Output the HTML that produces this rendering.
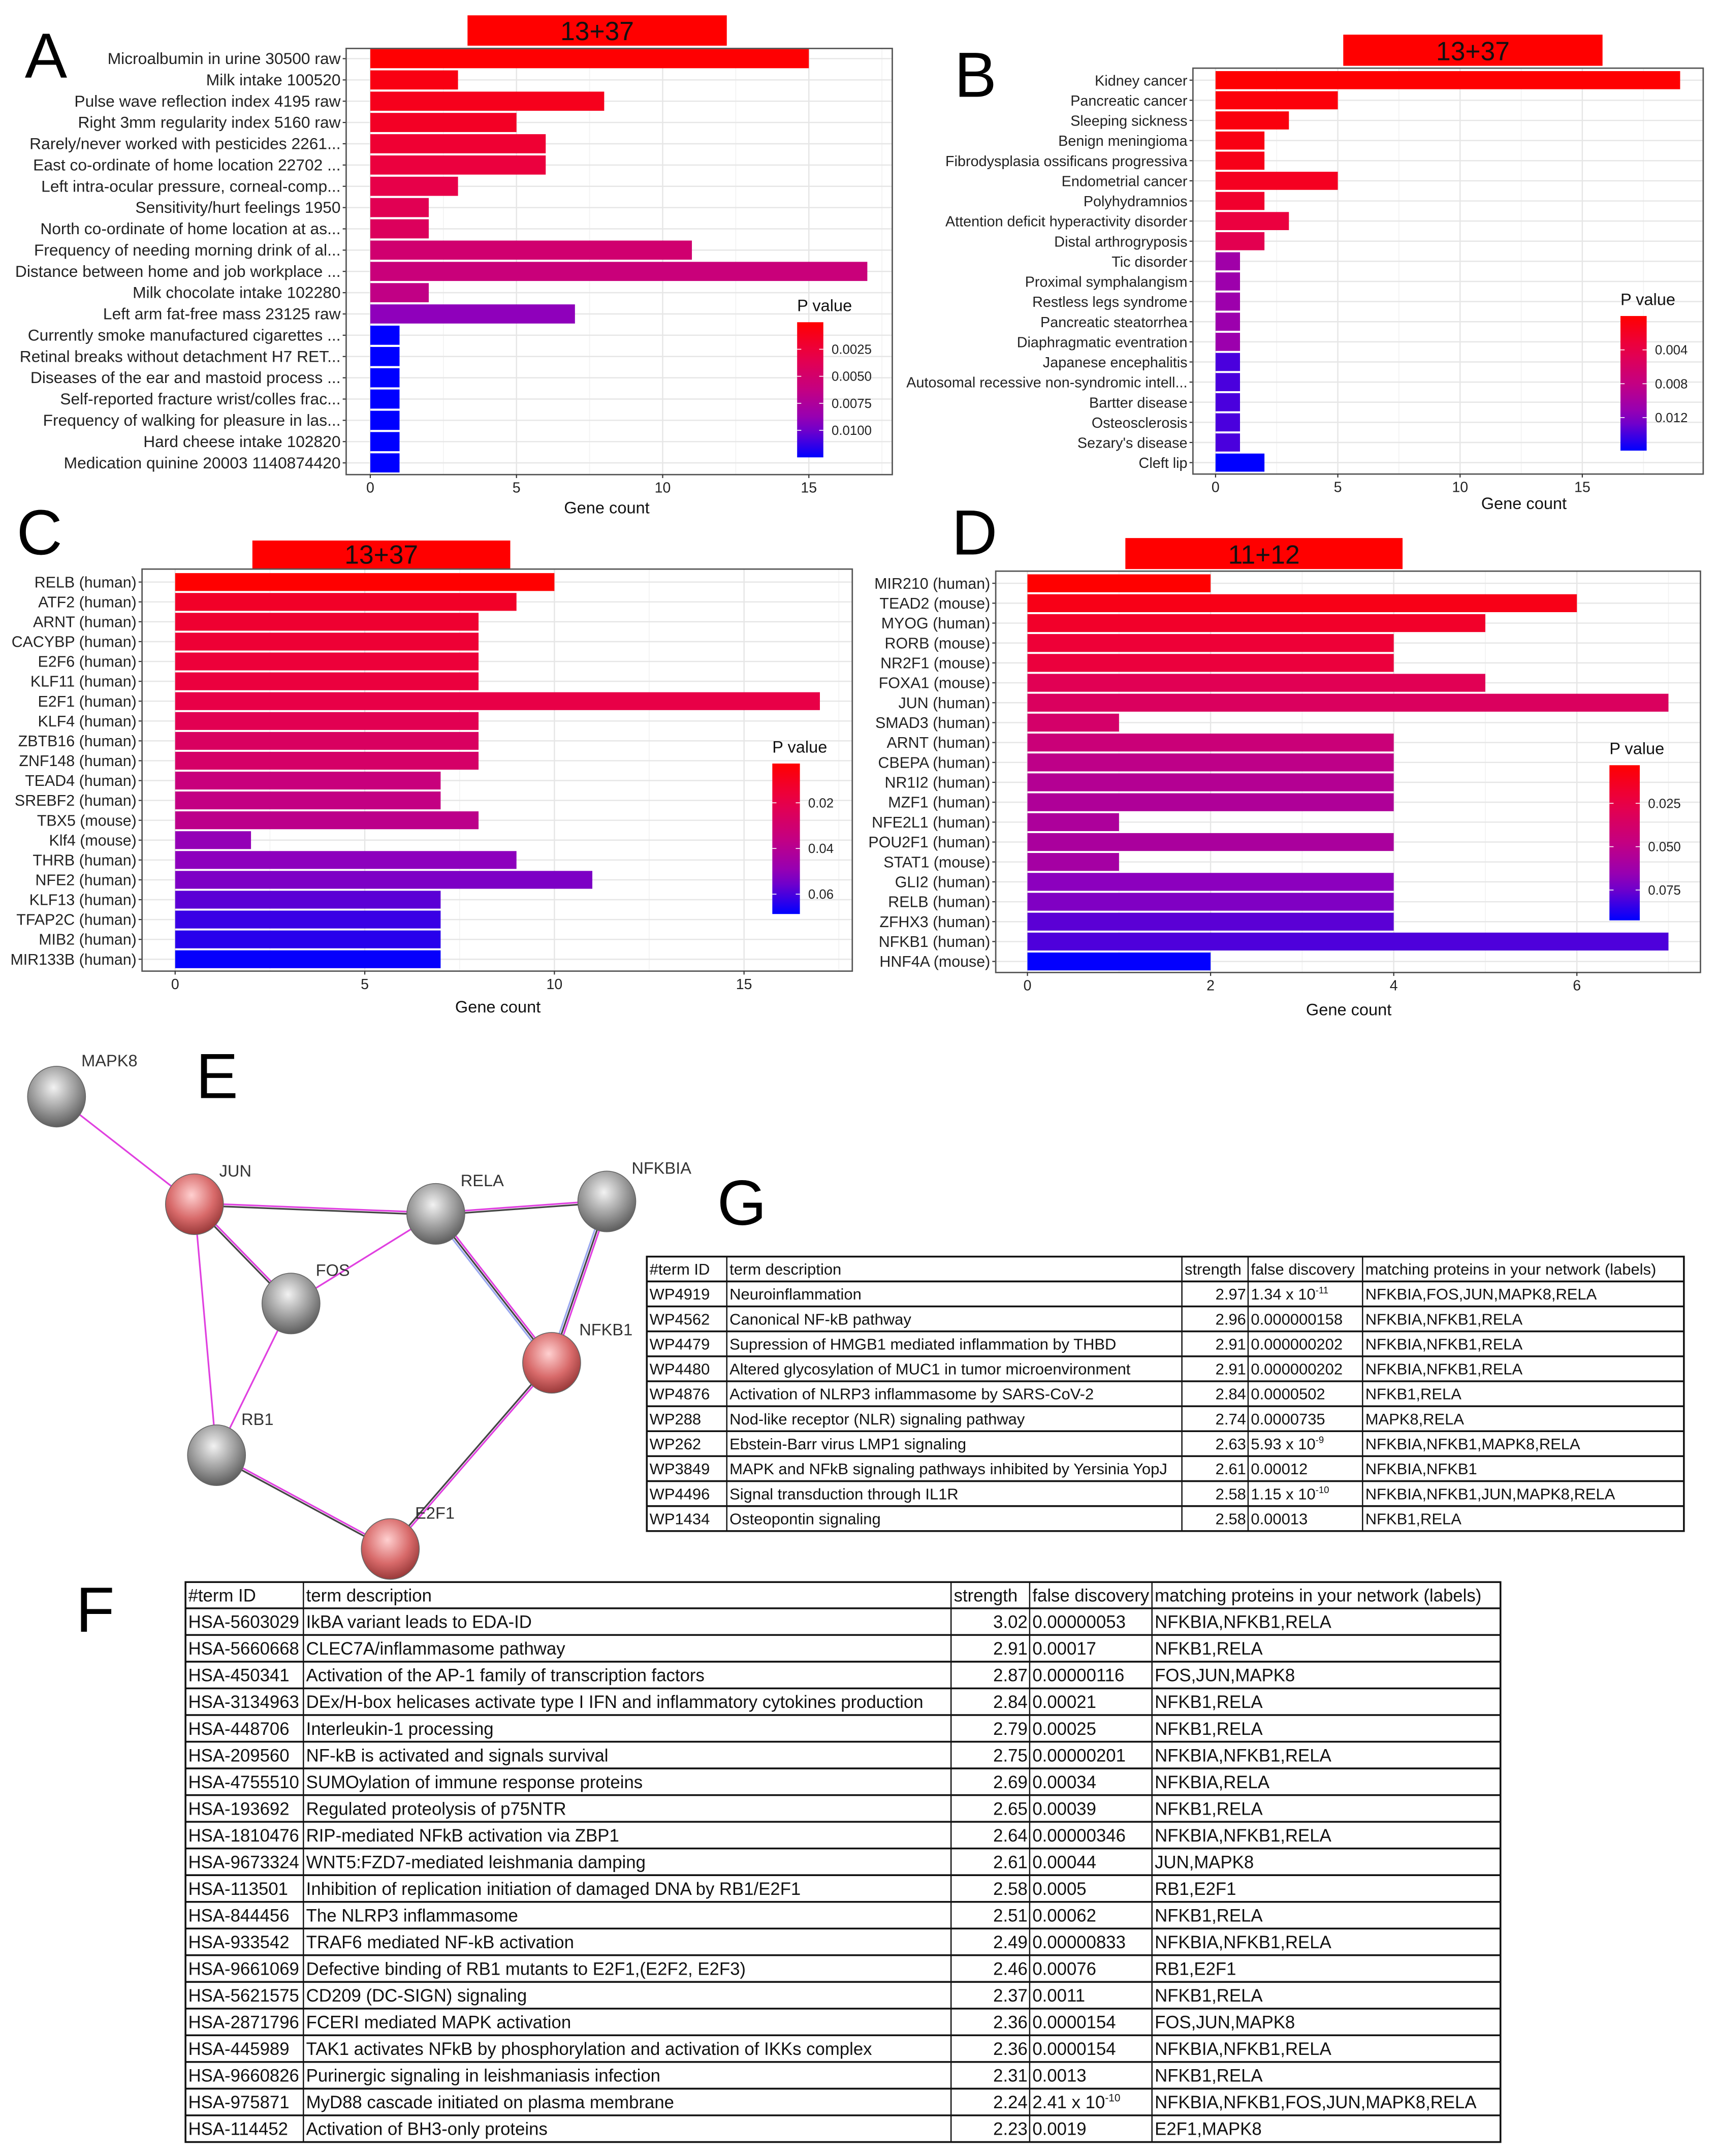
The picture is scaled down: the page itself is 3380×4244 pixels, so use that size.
<!DOCTYPE html>
<html><head><meta charset="utf-8">
<style>
html,body{margin:0;padding:0;background:#fff;}
svg{display:block;}
text{font-family:"Liberation Sans",sans-serif;}
</style></head>
<body>
<svg id="root" xmlns="http://www.w3.org/2000/svg" width="3380" height="4244" viewBox="0 0 1245 1563">
<rect width="1245" height="1563" fill="#fff"/>
<g id="panels"></g>
<g id="network"></g>
<g id="tables"></g>
<text x="18" y="56" font-size="46">A</text>
<text x="692" y="70" font-size="46">B</text>
<text x="12" y="402" font-size="46">C</text>
<text x="690" y="402" font-size="46">D</text>
<text x="142" y="796" font-size="46">E</text>
<text x="520" y="888" font-size="46">G</text>
<text x="55" y="1183" font-size="46">F</text>
</svg>
<script>
// ---------- Chart data ----------
const catsA = ["Microalbumin in urine 30500 raw","Milk intake 100520","Pulse wave reflection index 4195 raw","Right 3mm regularity index 5160 raw","Rarely/never worked with pesticides 2261...","East co-ordinate of home location 22702 ...","Left intra-ocular pressure, corneal-comp...","Sensitivity/hurt feelings 1950","North co-ordinate of home location at as...","Frequency of needing morning drink of al...","Distance between home and job workplace ...","Milk chocolate intake 102280","Left arm fat-free mass 23125 raw","Currently smoke manufactured cigarettes ...","Retinal breaks without detachment H7 RET...","Diseases of the ear and mastoid process ...","Self-reported fracture wrist/colles frac...","Frequency of walking for pleasure in las...","Hard cheese intake 102820","Medication quinine 20003 1140874420"];
const countsA = [15,3,8,5,6,6,3,2,2,11,17,2,7,1,1,1,1,1,1,1];
const pvalsA = [0.0001,0.0008,0.0012,0.0016,0.0022,0.0027,0.0032,0.0037,0.0042,0.0052,0.0058,0.0064,0.0092,0.0125,0.0125,0.0125,0.0125,0.0125,0.0125,0.0125];
const ticksA = [0,5,10,15];
const legendA = ["0.0025","0.0050","0.0075","0.0100"];
const legendValsA = [0.0025,0.005,0.0075,0.01];

const catsB = ["Kidney cancer","Pancreatic cancer","Sleeping sickness","Benign meningioma","Fibrodysplasia ossificans progressiva","Endometrial cancer","Polyhydramnios","Attention deficit hyperactivity disorder","Distal arthrogryposis","Tic disorder","Proximal symphalangism","Restless legs syndrome","Pancreatic steatorrhea","Diaphragmatic eventration","Japanese encephalitis","Autosomal recessive non-syndromic intell...","Bartter disease","Osteosclerosis","Sezary's disease","Cleft lip"];
const countsB = [19,5,3,2,2,5,2,3,2,1,1,1,1,1,1,1,1,1,1,2];
const pvalsB = [0.0001,0.0006,0.0008,0.0010,0.0014,0.0018,0.0025,0.0035,0.0045,0.0105,0.0107,0.0107,0.0108,0.0108,0.0138,0.0138,0.0138,0.0138,0.0138,0.0160];
const ticksB = [0,5,10,15];
const legendB = ["0.004","0.008","0.012"];
const legendValsB = [0.004,0.008,0.012];

const catsC = ["RELB (human)","ATF2 (human)","ARNT (human)","CACYBP (human)","E2F6 (human)","KLF11 (human)","E2F1 (human)","KLF4 (human)","ZBTB16 (human)","ZNF148 (human)","TEAD4 (human)","SREBF2 (human)","TBX5 (mouse)","Klf4 (mouse)","THRB (human)","NFE2 (human)","KLF13 (human)","TFAP2C (human)","MIB2 (human)","MIR133B (human)"];
const countsC = [10,9,8,8,8,8,17,8,8,8,7,7,8,2,9,11,7,7,7,7];
const pvalsC = [0.003,0.012,0.014,0.015,0.016,0.017,0.019,0.022,0.026,0.028,0.034,0.036,0.038,0.050,0.052,0.054,0.058,0.062,0.064,0.068];
const ticksC = [0,5,10,15];
const legendC = ["0.02","0.04","0.06"];
const legendValsC = [0.02,0.04,0.06];

const catsD = ["MIR210 (human)","TEAD2 (mouse)","MYOG (human)","RORB (mouse)","NR2F1 (mouse)","FOXA1 (mouse)","JUN (human)","SMAD3 (human)","ARNT (human)","CBEPA (human)","NR1I2 (human)","MZF1 (human)","NFE2L1 (human)","POU2F1 (human)","STAT1 (mouse)","GLI2 (human)","RELB (human)","ZFHX3 (human)","NFKB1 (human)","HNF4A (mouse)"];
const countsD = [2,6,5,4,4,5,7,1,4,4,4,4,1,4,1,4,4,4,7,2];
const pvalsD = [0.003,0.010,0.016,0.020,0.022,0.030,0.034,0.038,0.044,0.050,0.054,0.056,0.057,0.058,0.060,0.070,0.072,0.078,0.080,0.092];
const ticksD = [0,2,4,6];
const legendD = ["0.025","0.050","0.075"];
const legendValsD = [0.025,0.05,0.075];

const NS = "http://www.w3.org/2000/svg";
function mk(tag, attrs, parent){
  const e = document.createElementNS(NS, tag);
  for (const k in attrs) e.setAttribute(k, attrs[k]);
  if (parent) parent.appendChild(e);
  return e;
}
const stops = [[255,0,0],[232,0,72],[196,0,130],[140,0,190],[0,0,255]];
function colorAt(t){
  t = Math.max(0, Math.min(1, t));
  const s = t*(stops.length-1); const i = Math.min(stops.length-2, Math.floor(s)); const f = s-i;
  const a = stops[i], b = stops[i+1];
  return "rgb(" + a.map((v,j)=>Math.round(v+(b[j]-v)*f)).join(",") + ")";
}

function barChart(cfg){
  const g = mk("g", {}, document.getElementById("panels"));
  
  
  const xScale = v => cfg.x0 + v*cfg.unit;
  const n = cfg.cats.length;
  const yScale = i => cfg.rowFirst + i*(cfg.rowLast-cfg.rowFirst)/(n-1);
  const step = (cfg.rowLast-cfg.rowFirst)/(n-1);
  const pScale = p => (p - cfg.pMin)/(cfg.pMax - cfg.pMin);
  const tb = mk("rect", {x:cfg.title[0], y:cfg.title[1], width:cfg.title[2]-cfg.title[0], height:cfg.title[3]-cfg.title[1], fill:"#ff0000"}, g);
  
  
  const tt = mk("text", {x:(cfg.title[0]+cfg.title[2])/2, y:cfg.title[3]-4, "font-size":19, "text-anchor":"middle", fill:"#111"}, g);
  tt.textContent = cfg.titleText;
  
  
  mk("rect", {x:cfg.box[0], y:cfg.box[1], width:cfg.box[2]-cfg.box[0], height:cfg.box[3]-cfg.box[1], fill:"#fff"}, g);
  const minorStep = (cfg.ticks[1]-cfg.ticks[0])/2;
  for (let v = minorStep; xScale(v) < cfg.box[2]; v += minorStep*2){
    mk("line", {x1:xScale(v), x2:xScale(v), y1:cfg.box[1], y2:cfg.box[3], stroke:"#f2f2f2", "stroke-width":0.6}, g);
  }
  cfg.ticks.forEach(v => mk("line", {x1:xScale(v), x2:xScale(v), y1:cfg.box[1], y2:cfg.box[3], stroke:"#e6e6e6", "stroke-width":0.9}, g));
  for (let i=0;i<n;i++) mk("line", {x1:cfg.box[0], x2:cfg.box[2], y1:yScale(i), y2:yScale(i), stroke:"#e6e6e6", "stroke-width":0.9}, g);
  for (let i=0;i<n;i++){
    const r = mk("rect", {x:xScale(0), y:yScale(i)-step*0.45, width:xScale(cfg.counts[i])-xScale(0), height:step*0.9, fill:colorAt(pScale(cfg.pvals[i]))}, g);
    
    
    const lb = mk("text", {x:cfg.box[0]-4, y:yScale(i)+3.9, "font-size":cfg.fs, "text-anchor":"end", fill:"#222"}, g);
    lb.textContent = cfg.cats[i];
    
    
    mk("line", {x1:cfg.box[0]-2.5, x2:cfg.box[0], y1:yScale(i), y2:yScale(i), stroke:"#333", "stroke-width":0.8}, g);
  }
  mk("rect", {x:cfg.box[0], y:cfg.box[1], width:cfg.box[2]-cfg.box[0], height:cfg.box[3]-cfg.box[1], fill:"none", stroke:"#555", "stroke-width":1}, g);
  cfg.ticks.forEach(v => {
    mk("line", {x1:xScale(v), x2:xScale(v), y1:cfg.box[3], y2:cfg.box[3]+2.5, stroke:"#333", "stroke-width":0.8}, g);
    const t = mk("text", {x:xScale(v), y:cfg.box[3]+13, "font-size":10.5, "text-anchor":"middle", fill:"#222"}, g);
    t.textContent = v;
    
    
  });
  const xt = mk("text", {x:cfg.xTitle[0], y:cfg.xTitle[1], "font-size":12, "text-anchor":"middle", fill:"#111"}, g);
  xt.textContent = "Gene count";
  
  
  const L = cfg.leg;
  const gid = "grad-" + cfg.name;
  const defs = mk("defs", {}, g);
  const lg = mk("linearGradient", {id:gid, x1:0, y1:0, x2:0, y2:1}, defs);
  for (let k=0;k<=10;k++) mk("stop", {offset:(k*10)+"%", "stop-color":colorAt(k/10)}, lg);
  const lt = mk("text", {x:L[0], y:L[1]-8, "font-size":12, fill:"#111"}, g);
  lt.textContent = "P value";
  
  
  const cb = mk("rect", {x:L[0], y:L[1], width:L[2]-L[0], height:L[3]-L[1], fill:"url(#"+gid+")"}, g);
  
  
  cfg.legVals.forEach((v,k) => {
    const y = L[1] + pScale(v)*(L[3]-L[1]);
    mk("line", {x1:L[0], x2:L[0]+3, y1:y, y2:y, stroke:"#fff", "stroke-width":0.6}, g);
    mk("line", {x1:L[2]-3, x2:L[2], y1:y, y2:y, stroke:"#fff", "stroke-width":0.6}, g);
    const t = mk("text", {x:L[2]+6, y:y+3.3, "font-size":9.5, fill:"#222"}, g);
    t.textContent = cfg.legLabels[k];
    
    
  });
}

barChart({name:"chart-a", cats:catsA, counts:countsA, pvals:pvalsA, ticks:ticksA, legLabels:legendA, legVals:legendValsA,
  box:[251,35,647,344], x0:268.5, unit:21.2, rowFirst:42.4, rowLast:335.5, title:[339,11,527,33], titleText:"13+37",
  xTitle:[440,372], leg:[578,233.5,597,331.5], pMin:0, pMax:0.0125, fs:11.7});
barChart({name:"chart-b", cats:catsB, counts:countsB, pvals:pvalsB, ticks:ticksB, legLabels:legendB, legVals:legendValsB,
  box:[865,49.3,1235,343.6], x0:881.4, unit:17.73, rowFirst:58, rowLast:335.3, title:[974,25,1162,47.6], titleText:"13+37",
  xTitle:[1105,369], leg:[1175,229,1194,326.6], pMin:0, pMax:0.0159, fs:10.6});
barChart({name:"chart-c", cats:catsC, counts:countsC, pvals:pvalsC, ticks:ticksC, legLabels:legendC, legVals:legendValsC,
  box:[103,412.5,618,704], x0:127, unit:27.5, rowFirst:421.9, rowLast:695.4, title:[183,391.8,370,412.5], titleText:"13+37",
  xTitle:[361,734], leg:[560,553.5,580,662.6], pMin:0.0028, pMax:0.0687, fs:11.2});
barChart({name:"chart-d", cats:catsD, counts:countsD, pvals:pvalsD, ticks:ticksD, legLabels:legendD, legVals:legendValsD,
  box:[722,414,1233,705], x0:745, unit:66.4, rowFirst:422.8, rowLast:697, title:[816,390,1017,412.5], titleText:"11+12",
  xTitle:[978,736], leg:[1167,554.7,1189,667.2], pMin:0.003, pMax:0.0925, fs:11.2});

// ---------- Network ----------
const nodeNames = ["MAPK8","JUN","RELA","NFKBIA","FOS","NFKB1","RB1","E2F1"];
const nodeX = [41,141,316,440,211,400,157,283];
const nodeY = [795,873,880,871,945,988,1055,1123];
const nodeRed = [0,1,0,0,0,1,0,1];
const labelDX = [18,18,18,18,18,20,18,18];
const labelDY = [-22,-20,-20,-20,-20,-20,-22,-22];
const edgeFrom = [0,1,1,1,4,4,2,2,3,5,6];
const edgeTo   = [1,2,4,6,2,6,3,5,5,7,7];
const edgeKind = [0,1,1,0,0,0,1,2,2,1,1];
const net = document.getElementById("network");
const nd = mk("defs", {}, net);
[["gg","#f2f2f2","#9a9a9a","#5e5e5e"],["gr","#ffd0d0","#d86a6a","#9a3a3a"]].forEach(c=>{
  const rg = mk("radialGradient", {id:c[0], cx:"45%", cy:"35%", r:"65%"}, nd);
  mk("stop", {offset:"0%", "stop-color":c[1]}, rg);
  mk("stop", {offset:"60%", "stop-color":c[2]}, rg);
  mk("stop", {offset:"100%", "stop-color":c[3]}, rg);
});
edgeFrom.forEach((a,k) => {
  const b = edgeTo[k];
  const x1=nodeX[a], y1=nodeY[a], x2=nodeX[b], y2=nodeY[b];
  const L = Math.hypot(x2-x1,y2-y1), nx=-(y2-y1)/L, ny=(x2-x1)/L;
  const cols = edgeKind[k]===0 ? ["#e040e0"] : edgeKind[k]===1 ? ["#e040e0","#444"] : ["#e040e0","#444","#9aa8f0"];
  cols.forEach((c,j) => {
    const o = (j-(cols.length-1)/2)*1.6;
    const ln = mk("line", {x1:x1+nx*o, y1:y1+ny*o, x2:x2+nx*o, y2:y2+ny*o, stroke:c, "stroke-width":1.2}, net);
    
    
  });
});
nodeNames.forEach((nm,i) => {
  const c = mk("ellipse", {cx:nodeX[i], cy:nodeY[i], rx:21, ry:22, fill:nodeRed[i] ? "url(#gr)" : "url(#gg)", stroke:"#666", "stroke-width":0.6}, net);
  
  
  const t = mk("text", {x:nodeX[i]+labelDX[i], y:nodeY[i]+labelDY[i], "font-size":12, fill:"#333"}, net);
  t.textContent = nm;
  
  
});

// ---------- Tables ----------
const gIds = ["WP4919","WP4562","WP4479","WP4480","WP4876","WP288","WP262","WP3849","WP4496","WP1434"];
const gDesc = ["Neuroinflammation","Canonical NF-kB pathway","Supression of HMGB1 mediated inflammation by THBD","Altered glycosylation of MUC1 in tumor microenvironment","Activation of NLRP3 inflammasome by SARS-CoV-2","Nod-like receptor (NLR) signaling pathway","Ebstein-Barr virus LMP1 signaling","MAPK and NFkB signaling pathways inhibited by Yersinia YopJ","Signal transduction through IL1R","Osteopontin signaling"];
const gStr = ["2.97","2.96","2.91","2.91","2.84","2.74","2.63","2.61","2.58","2.58"];
const gFdr = ["1.34 x 10^-11","0.000000158","0.000000202","0.000000202","0.0000502","0.0000735","5.93 x 10^-9","0.00012","1.15 x 10^-10","0.00013"];
const gProt = ["NFKBIA,FOS,JUN,MAPK8,RELA","NFKBIA,NFKB1,RELA","NFKBIA,NFKB1,RELA","NFKBIA,NFKB1,RELA","NFKB1,RELA","MAPK8,RELA","NFKBIA,NFKB1,MAPK8,RELA","NFKBIA,NFKB1","NFKBIA,NFKB1,JUN,MAPK8,RELA","NFKB1,RELA"];

const fIds = ["HSA-5603029","HSA-5660668","HSA-450341","HSA-3134963","HSA-448706","HSA-209560","HSA-4755510","HSA-193692","HSA-1810476","HSA-9673324","HSA-113501","HSA-844456","HSA-933542","HSA-9661069","HSA-5621575","HSA-2871796","HSA-445989","HSA-9660826","HSA-975871","HSA-114452"];
const fDesc = ["IkBA variant leads to EDA-ID","CLEC7A/inflammasome pathway","Activation of the AP-1 family of transcription factors","DEx/H-box helicases activate type I IFN and inflammatory cytokines production","Interleukin-1 processing","NF-kB is activated and signals survival","SUMOylation of immune response proteins","Regulated proteolysis of p75NTR","RIP-mediated NFkB activation via ZBP1","WNT5:FZD7-mediated leishmania damping","Inhibition of replication initiation of damaged DNA by RB1/E2F1","The NLRP3 inflammasome","TRAF6 mediated NF-kB activation","Defective binding of RB1 mutants to E2F1,(E2F2, E2F3)","CD209 (DC-SIGN) signaling","FCERI mediated MAPK activation","TAK1 activates NFkB by phosphorylation and activation of IKKs complex","Purinergic signaling in leishmaniasis infection","MyD88 cascade initiated on plasma membrane","Activation of BH3-only proteins"];
const fStr = ["3.02","2.91","2.87","2.84","2.79","2.75","2.69","2.65","2.64","2.61","2.58","2.51","2.49","2.46","2.37","2.36","2.36","2.31","2.24","2.23"];
const fFdr = ["0.00000053","0.00017","0.00000116","0.00021","0.00025","0.00000201","0.00034","0.00039","0.00000346","0.00044","0.0005","0.00062","0.00000833","0.00076","0.0011","0.0000154","0.0000154","0.0013","2.41 x 10^-10","0.0019"];
const fProt = ["NFKBIA,NFKB1,RELA","NFKB1,RELA","FOS,JUN,MAPK8","NFKB1,RELA","NFKB1,RELA","NFKBIA,NFKB1,RELA","NFKBIA,RELA","NFKB1,RELA","NFKBIA,NFKB1,RELA","JUN,MAPK8","RB1,E2F1","NFKB1,RELA","NFKBIA,NFKB1,RELA","RB1,E2F1","NFKB1,RELA","FOS,JUN,MAPK8","NFKBIA,NFKB1,RELA","NFKB1,RELA","NFKBIA,NFKB1,FOS,JUN,MAPK8,RELA","E2F1,MAPK8"];

const header = ["#term ID","term description","strength","false discovery","matching proteins in your network (labels)"];
function table(name, cols, top, headBottom, bottom, fs, rows){
  const g = mk("g", {}, document.getElementById("tables"));
  
  
  const n = rows[0].length;
  const rh = (bottom-headBottom)/n;
  mk("rect", {x:cols[0], y:top, width:cols[5]-cols[0], height:bottom-top, fill:"#fff", stroke:"#111", "stroke-width":1.3}, g);
  for (let c=1;c<5;c++) mk("line", {x1:cols[c], x2:cols[c], y1:top, y2:bottom, stroke:"#111", "stroke-width":0.9}, g);
  for (let r=0;r<n;r++) mk("line", {x1:cols[0], x2:cols[5], y1:headBottom+r*rh, y2:headBottom+r*rh, stroke:"#111", "stroke-width":1.3}, g);
  function cell(txt, c, yb, anchorEnd, maxw){
    const t = mk("text", {x: anchorEnd ? cols[c+1]-1.5 : cols[c]+2, y:yb, "font-size":fs, fill:"#111", "text-anchor": anchorEnd ? "end":"start"}, g);
    const m = txt.split("^");
    t.textContent = m[0];
    if (m[1]) { const sp = mk("tspan", {dy:-fs*0.4, "font-size":fs*0.6}, t); sp.textContent = m[1]; }
    
    
    if (maxw) { const w = t.getComputedTextLength(); if (w > maxw) { t.setAttribute('textLength', maxw); t.setAttribute('lengthAdjust','spacingAndGlyphs'); } }
  }
  header.forEach((h,c) => cell(h, c, headBottom - (headBottom-top)/2 + fs*0.36, false, cols[c+1]-cols[c]-3));
  for (let r=0;r<n;r++){
    const yb = headBottom + r*rh + rh/2 + fs*0.36;
    cell(rows[0][r],0,yb,false,cols[1]-cols[0]-3); cell(rows[1][r],1,yb,false,cols[2]-cols[1]-4); cell(rows[2][r],2,yb,true);
    cell(rows[3][r],3,yb,false); cell(rows[4][r],4,yb,false,cols[5]-cols[4]-3);
  }
}
table("table-g-wikipathways", [469,527,857,905,988,1221], 911, 929, 1110, 11.4, [gIds,gDesc,gStr,gFdr,gProt]);
table("table-f-reactome", [134.5,220,689.6,746.6,835.3,1088], 1147, 1166, 1553, 12.8, [fIds,fDesc,fStr,fFdr,fProt]);
</script>
</body></html>
